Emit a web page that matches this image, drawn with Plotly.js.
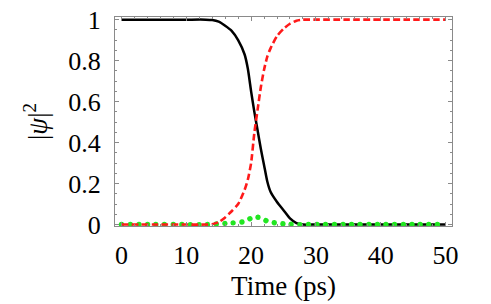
<!DOCTYPE html>
<html>
<head>
<meta charset="utf-8">
<script src="https://cdn.plot.ly/plotly-3.0.1.min.js"></script>
<style>
  html, body { margin: 0; padding: 0; background: #fff; }
  #chart { width: 491px; height: 304px; }
  .scatterlayer .trace:nth-of-type(2) path.js-line { stroke-linecap: round !important; }
  #chart .xtick text, #chart .ytick text, #chart .xtitle, #chart .ytitle { font-family: 'Liberation Serif', serif !important; }
</style>
</head>
<body>
<div id="chart"></div>
<script>
// Time (ps)
var time = [0, 5, 10, 13, 14, 15, 16, 17, 18, 19, 19.5, 20, 20.5, 21, 21.5, 22, 22.5, 23, 24, 25, 26, 27, 28, 30, 35, 40, 45, 50];
// |psi|^2 for the three states
var state1 = [1, 1, 1, 1, 0.998, 0.99, 0.97, 0.945, 0.9, 0.83, 0.76, 0.65, 0.55, 0.46, 0.37, 0.29, 0.21, 0.16, 0.11, 0.07, 0.03, 0.007, 0, 0, 0, 0, 0, 0];
var state2 = [0, 0, 0, 0, 0.002, 0.012, 0.035, 0.065, 0.1, 0.17, 0.22, 0.3, 0.448, 0.56, 0.67, 0.756, 0.82, 0.86, 0.92, 0.955, 0.98, 0.995, 1, 1, 1, 1, 1, 1];
var state3 = [0, 0, 0, 0, 0.002, 0.004, 0.006, 0.008, 0.01, 0.015, 0.022, 0.032, 0.036, 0.036, 0.034, 0.025, 0.016, 0.012, 0.007, 0.004, 0.002, 0, 0, 0, 0, 0, 0, 0];

var xTickVals = [0, 10, 20, 30, 40, 50];
var yTickVals = [0, 0.2, 0.4, 0.6, 0.8, 1];
var yTickText = ['0', '0.2', '0.4', '0.6', '0.8', '1'];

var traces = [
  { x: time, y: state1, mode: 'lines', line: { color: '#000000', width: 2.5, shape: 'spline', smoothing: 0.6 } },
  { x: time, y: state3, mode: 'lines', line: { color: '#22e622', width: 5.4, dash: '0.01px,8.6px', shape: 'spline', smoothing: 0.6 } },
  { x: time, y: state2, mode: 'lines', line: { color: '#ff1a1a', width: 2.6, dash: '6.7px,3.3px', shape: 'spline', smoothing: 0.6 } }
];

var serif = 'Liberation Serif';
var frame = '#8a8a8a';

var layout = {
  width: 491, height: 304,
  margin: { l: 115, r: 39, t: 17, b: 78 },
  showlegend: false,
  paper_bgcolor: '#ffffff', plot_bgcolor: '#ffffff',
  font: { family: serif, size: 26, color: '#000000' },
  xaxis: {
    range: [-1, 51],
    tickvals: xTickVals, ticktext: xTickVals.map(String),
    ticks: 'inside', ticklen: 4, tickcolor: frame, tickwidth: 1,
    minor: { ticks: 'inside', ticklen: 2, dtick: 2, tickcolor: frame, tickwidth: 1 },
    showline: true, linecolor: frame, linewidth: 1, mirror: 'allticks',
    showgrid: false, zeroline: false,
    tickfont: { family: serif, size: 26 },
    ticklabelstandoff: 6,
    title: { text: 'Time (ps)', font: { family: serif, size: 27 }, standoff: 6 }
  },
  yaxis: {
    range: [-0.007, 1.013],
    tickvals: yTickVals, ticktext: yTickText,
    ticks: 'inside', ticklen: 4, tickcolor: frame, tickwidth: 1,
    minor: { ticks: 'inside', ticklen: 2, dtick: 0.05, tickcolor: frame, tickwidth: 1 },
    showline: true, linecolor: frame, linewidth: 1, mirror: 'allticks',
    showgrid: false, zeroline: false,
    tickfont: { family: serif, size: 26 },
    ticklabelstandoff: 8,
    title: { text: '|<i>ψ</i>|<sup>2</sup>', font: { family: serif, size: 27 }, standoff: 12 }
  }
};

Plotly.newPlot('chart', traces, layout, { displayModeBar: false, staticPlot: true });
</script>
</body>
</html>
